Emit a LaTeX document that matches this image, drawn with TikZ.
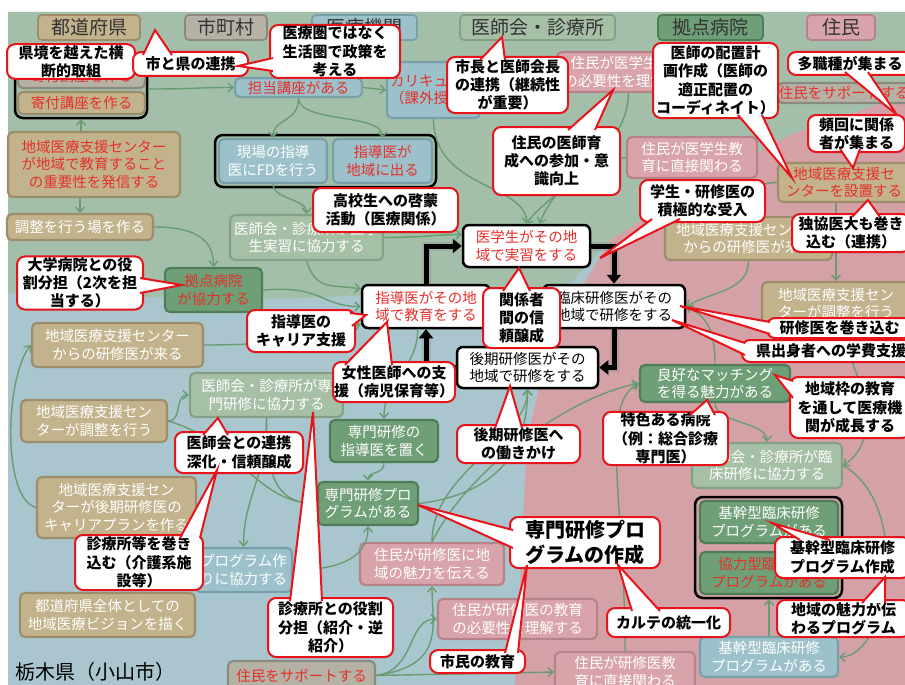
\documentclass[tikz,border=0pt]{standalone}
\usepackage{fontspec}
\setmainfont{Noto Sans CJK JP}
\usetikzlibrary{arrows.meta}
\definecolor{bggreen}{HTML}{A3BFA9}
\definecolor{bgblue}{HTML}{A9C6CE}
\definecolor{bgpink}{HTML}{D4A1A7}
\definecolor{tanf}{HTML}{C3B38D}
\definecolor{tand}{HTML}{9C8E6C}
\definecolor{grayf}{HTML}{B5B2A5}
\definecolor{grayd}{HTML}{8C8A7E}
\definecolor{bluef}{HTML}{9DC1CB}
\definecolor{blued}{HTML}{78A0AA}
\definecolor{ggf}{HTML}{A6C0A6}
\definecolor{ggd}{HTML}{86A086}
\definecolor{dgf}{HTML}{6F9F77}
\definecolor{dgd}{HTML}{4F7D57}
\definecolor{pkf}{HTML}{D9A4A9}
\definecolor{pkd}{HTML}{B4848A}
\definecolor{txtred}{HTML}{E5302A}
\definecolor{calred}{HTML}{E8141B}
\definecolor{lgreen}{HTML}{6A9C73}
\definecolor{hdrtxt}{HTML}{333333}
\newcommand\bx[7]{\node[#1,minimum width={#5-#3},minimum height={#6-#4}] (#2) at ({(#3+#5)/2},{(#4+#6)/2}) {#7};}
\newcommand\ptr[3]{\filldraw[ptrst] #1 -- #2 -- #3;}
\tikzset{
 bxbase/.style={rounded corners=5pt, line width=2.2pt, align=center, inner sep=1pt, font=\fontsize{14.5}{17.5}\selectfont, text=white},
 tanbox/.style={bxbase, fill=tanf, draw=tand},
 graybox/.style={bxbase, fill=grayf, draw=grayd},
 bluebox/.style={bxbase, fill=bluef, draw=blued},
 ggbox/.style={bxbase, fill=ggf, draw=ggd},
 dgbox/.style={bxbase, fill=dgf, draw=dgd},
 pkbox/.style={bxbase, fill=pkf, draw=pkd},
 rt/.style={text=txtred},
 hdr/.style={rounded corners=4pt, line width=1.8pt, font=\fontsize{19}{22}\selectfont, text=hdrtxt, inner sep=0pt},
 wbox/.style={rounded corners=6pt, line width=2.5pt, draw=black, fill=white, align=center, inner sep=1pt, font=\fontsize{14.5}{17.5}\selectfont, text=black},
 call/.style={rounded corners=8pt, line width=2pt, draw=calred, fill=white, align=center, inner sep=1pt, font=\fontsize{15}{18.3}\selectfont\bfseries, text=black},
 ptrst/.style={fill=white, draw=calred, line width=2pt, line join=miter},
 grp/.style={rounded corners=8pt, line width=2.5pt, draw=black},
 gar/.style={draw=lgreen, line width=1.4pt, -{Straight Barb[length=5pt,width=9pt]}},
 cyc/.style={draw=black, line width=5pt, -{Triangle[length=9pt,width=14pt]}, preaction={draw=black!45, line width=9pt, opacity=0.35}},
}
\begin{document}
\begin{tikzpicture}[x=1pt,y=-1pt]
\useasboundingbox (0,0) rectangle (905,685);
% background
\fill[white] (0,0) rectangle (905,685);
\fill[bgblue] (8,12) rectangle (905,685);
\fill[bggreen] (8,12) -- (905,12) -- (905,95) -- (790,135) -- (690,190) -- (610,240) -- (555,300) -- (450,292) -- (250,300) -- (8,293) -- cycle;
\fill[bgpink] (905,95) -- (790,135) -- (690,190) -- (610,240) -- (550,340) -- (527,440) -- (515,685) -- (905,685) -- cycle;

% headers
\bx{hdr,fill=tanf,draw=tand}{h1}{38}{15}{140}{40}{都道府県}
\bx{hdr,fill=grayf,draw=grayd}{h2}{185}{15}{267}{40}{市町村}
\bx{hdr,fill=bluef,draw=blued}{h3}{312}{15}{417}{40}{医療機関}
\bx{hdr,fill=ggf,draw=ggd}{h4}{460}{15}{615}{40}{医師会・診療所}
\bx{hdr,fill=dgf,draw=dgd}{h5}{658}{15}{763}{40}{拠点病院}
\bx{hdr,fill=pkf,draw=pkd}{h6}{807}{15}{875}{40}{住民}

% left column
\bx{grp}{kifgrp}{15}{60}{147}{118}{}
\bx{graybox,rt}{kif1}{18}{65}{145}{88}{寄付講座を作る}
\bx{tanbox,rt}{kif2}{18}{92}{145}{114}{寄付講座を作る}
\bx{tanbox,rt}{hasshin}{8}{132}{180}{197}{地域医療支援センター\\が地域で教育すること\\の重要性を発信する}
\bx{tanbox}{chosei}{7}{214}{153}{240}{調整を行う場を作る}
\bx{dgbox,rt}{kyoten}{165}{268}{262}{312}{拠点病院\\が協力する}
\bx{tanbox}{lc1}{32}{323}{203}{367}{地域医療支援センター\\からの研修医が来る}
\bx{tanbox}{lc2}{21}{400}{167}{442}{地域医療支援セン\\ターが調整を行う}
\bx{tanbox}{lc3}{37}{477}{196}{538}{地域医療支援セン\\ターが後期研修医の\\キャリアプランを作る}
\bx{tanbox}{vision}{20}{593}{195}{637}{都道府県全体としての\\地域医療ビジョンを描く}
\node[anchor=west, font=\fontsize{20}{24}\selectfont, text=black, inner sep=0pt] (title) at (15,672) {栃木県（小山市）};

% middle
\bx{bluebox,rt}{tanto}{235}{78}{362}{97}{担当講座がある}
\bx{bluebox,rt}{kari}{387}{62}{480}{118}{カリキュラム\\（課外授業）}
\bx{grp}{fdgrp}{215}{135}{436}{187}{}
\bx{bluebox}{genba}{219}{139}{327}{183}{現場の指導\\医にFDを行う}
\bx{bluebox,rt}{chiiki}{333}{139}{432}{183}{指導医が\\地域に出る}
\bx{ggbox}{gakuseij}{230}{215}{383}{260}{医師会・診療所が医学\\生実習に協力する}
\bx{ggbox}{senmonk}{190}{373}{343}{417}{医師会・診療所が専\\門研修に協力する}
\bx{dgbox}{shidoioku}{330}{420}{438}{462}{専門研修の\\指導医を置く}
\bx{dgbox}{prog}{318}{482}{418}{525}{専門研修プロ\\グラムがある}
\bx{bluebox}{progt}{195}{548}{292}{592}{プログラム作\\りに協力する}
\bx{graybox,rt}{support2}{228}{661}{375}{690}{住民をサポートする}

% right
\bx{pkbox}{jumin1}{557}{52}{700}{92}{住民が医学生教育\\の必要性を理解する}
\bx{graybox,rt}{support1}{778}{83}{910}{103}{住民をサポートする}
\bx{pkbox}{jumin2}{627}{137}{757}{178}{住民が医学生教\\育に直接関わる}
\bx{tanbox,rt}{centerset}{778}{163}{910}{202}{地域医療支援セ\\ンターを設置する}
\bx{tanbox}{rc1}{665}{217}{832}{260}{地域医療支援センター\\からの研修医が来る}
\bx{tanbox}{rc2}{762}{282}{910}{325}{地域医療支援セン\\ターが調整を行う}
\bx{dgbox}{matching}{640}{365}{790}{402}{良好なマッチング\\を得る魅力がある}
\bx{ggbox}{rinshok}{692}{443}{842}{488}{医師会・診療所が臨\\床研修に協力する}
\bx{grp}{kikangrp}{695}{497}{842}{598}{}
\bx{dgbox}{kikan1}{700}{501}{838}{543}{基幹型臨床研修\\プログラムがある}
\bx{dgbox,rt}{kyoryoku}{700}{552}{838}{594}{協力型臨床研修\\プログラムがある}
\bx{bluebox}{kikan2}{700}{637}{838}{677}{基幹型臨床研修\\プログラムがある}
\bx{pkbox}{jumin3}{360}{543}{504}{585}{住民が研修医に地\\域の魅力を伝える}
\bx{pkbox}{jumin4}{438}{599}{597}{639}{住民が研修医の教育\\の必要性を理解する}
\bx{pkbox}{jumin5}{555}{652}{695}{692}{住民が研修医教\\育に直接関わる}

% centre cycle boxes
\bx{wbox,rt}{igaku}{463}{225}{590}{267}{医学生がその地\\域で実習をする}
\bx{wbox}{rinsho}{543}{285}{685}{328}{臨床研修医がその\\地域で研修をする}
\bx{wbox}{koki}{457}{347}{598}{388}{後期研修医がその\\地域で研修をする}
\bx{wbox,rt}{shidoi}{362}{285}{490}{328}{指導医がその地\\域で教育をする}

% green connectors
\draw[gar] (hasshin.north -| kifgrp.south) -- (kifgrp.south);
\draw[gar] (hasshin.south -| chosei.north) -- (chosei.north);
\draw[gar] (kifgrp.east) .. controls +(50,0) and +(-40,0) .. (tanto.west);
\draw[gar] (tanto.east) -- (kari.west);
\draw[gar] (tanto.south) .. controls +(0,25) and +(0,-20) .. (genba.north);
\draw[gar] (tanto.south) .. controls +(0,25) and +(0,-25) .. (chiiki.north);
\draw[gar] (genba.south) .. controls +(0,15) and +(0,-15) .. (gakuseij.north);
\draw[gar] (chosei.east) .. controls +(45,0) and +(0,-25) .. (kyoten.north);
\draw[gar] (kyoten.east) .. controls +(60,-5) and +(-40,0) .. (shidoi.west);
\draw[gar] (gakuseij.east) .. controls +(40,0) and +(-25,0) .. (igaku.170);
\draw[gar] (gakuseij.south) .. controls +(10,30) and +(-30,-5) .. (shidoi.165);
\draw[gar] (kari.south) .. controls +(0,70) and +(0,-40) .. (igaku.north);
\draw[gar] (jumin1.south) .. controls +(0,60) and +(20,-30) .. (igaku.north);
\draw[gar] (jumin2.west) .. controls +(-50,5) and +(10,-25) .. (igaku.60);
\draw[gar] (centerset.west) .. controls +(-25,0) and +(0,-20) .. (rc1.north);
\draw[gar] (centerset.south -| rc2.north) -- (rc2.north);
\draw[gar] (rc1.south) .. controls +(0,30) and +(25,-15) .. (rinsho.east);
\draw[gar] (matching.north) .. controls +(0,-35) and +(20,10) .. (rinsho.east);
\draw[gar] (lc1.east) .. controls +(70,0) and +(-50,15) .. (shidoi.195);
\draw[gar] (lc2.east) .. controls +(15,0) and +(-15,0) .. (senmonk.west);
\draw[gar] (lc3.west) .. controls +(-35,-10) and +(-25,30) .. (lc1.west);
\draw[gar] (lc2.east) .. controls +(70,20) and +(-60,0) .. (prog.west);
\draw[gar] (senmonk.south) .. controls +(0,60) and +(0,-50) .. (progt.north);
\draw[gar] (shidoi.250) .. controls +(0,40) and +(0,-40) .. (shidoioku.north);
\draw[gar] (shidoioku.south) .. controls +(0,12) and +(0,-10) .. (prog.north);
\draw[gar] (progt.east) .. controls +(40,0) and +(0,35) .. (prog.south);
\draw[gar] (senmonk.south) .. controls +(0,60) and +(-40,0) .. (prog.west);
\draw[gar] (support2.east) -- (jumin5.west);
\draw[gar] (support2.east) .. controls +(40,-5) and +(-30,0) .. (jumin4.west);
\draw[gar] (support2.east) .. controls +(70,-10) and +(0,40) .. (jumin3.south);
\draw[gar] (jumin3.north) .. controls +(0,-70) and +(0,50) .. (koki.south);
\draw[gar] (prog.east) .. controls +(80,-10) and +(0,60) .. (koki.south);
\draw[gar] (jumin3.north) .. controls +(40,-80) and +(-60,10) .. (matching.west);
\draw[gar] (jumin5.north) .. controls +(0,-150) and +(-40,20) .. (matching.west);
\draw[gar] (kikan2.north) -- (kikan2.north |- kikangrp.south);
\draw[gar] (matching.south) .. controls +(0,20) and +(0,-20) .. (rinshok.north);
\draw[gar] (rc2.south) .. controls +(40,80) and +(30,-20) .. (rinshok.east);
\draw[gar] (rinshok.east) .. controls +(70,40) and +(50,0) .. (kikan2.east);

% cycle arrows
\draw[cyc] (igaku.east) -| (rinsho.north);
\draw[cyc] (rinsho.south) |- (koki.east);
\draw[cyc] (koki.west) -| (shidoi.south);
\draw[cyc] (shidoi.north) |- (igaku.west);

% callouts
\bx{call}{c1}{7}{45}{135}{78}{県境を越えた横\\断的取組}
\bx{call}{c2}{133}{52}{248}{76}{市と県の連携}
\ptr{(143,55)}{(155,30)}{(172,55)}
\bx{call}{c3}{270}{25}{400}{78}{医療圏ではなく\\生活圏で政策を\\考える}
\ptr{(273,58)}{(238,66)}{(273,71)}
\bx{call}{c4}{447}{57}{568}{113}{市長と医師会長\\の連携（継続性\\が重要）}
\ptr{(480,60)}{(502,37)}{(505,60)}
\bx{call}{c5}{653}{43}{778}{118}{医師の配置計\\画作成（医師の\\適正配置の\\コーディネイト）}
\ptr{(738,115)}{(792,178)}{(762,115)}
\bx{call}{c6}{788}{52}{912}{75}{多職種が集まる}
\ptr{(845,72)}{(897,115)}{(868,72)}
\bx{call}{c7}{493}{127}{620}{195}{住民の医師育\\成への参加・意\\識向上}
\ptr{(568,130)}{(613,90)}{(595,130)}
\bx{call}{c8}{808}{115}{905}{152}{頻回に関係\\者が集まる}
\ptr{(840,149)}{(853,168)}{(860,149)}
\bx{call}{c9}{640}{180}{765}{222}{学生・研修医の\\積極的な受入}
\ptr{(652,219)}{(600,258)}{(680,219)}
\bx{call}{c10}{792}{214}{910}{252}{独協医大も巻き\\込む（連携）}
\ptr{(852,217)}{(868,200)}{(880,217)}
\bx{call}{c11}{313}{188}{458}{232}{高校生への啓蒙\\活動（医療関係）}
\bx{call}{c12}{17}{258}{143}{308}{大学病院との役\\割分担（2次を担\\当する）}
\ptr{(140,278)}{(182,285)}{(140,293)}
\bx{call}{c13}{247}{310}{355}{352}{指導医の\\キャリア支援}
\ptr{(350,313)}{(366,315)}{(352,326)}
\bx{call}{c14}{333}{362}{455}{402}{女性医師への支\\援（病児保育等）}
\ptr{(345,365)}{(387,322)}{(392,365)}
\bx{call}{c15}{483}{288}{560}{348}{関係者\\間の信\\頼醸成}
\ptr{(503,291)}{(519,268)}{(530,291)}
\bx{call}{c16}{767}{318}{912}{338}{研修医を巻き込む}
\ptr{(770,322)}{(680,306)}{(770,334)}
\bx{call}{c17}{742}{340}{920}{362}{県出身者への学費支援}
\ptr{(745,343)}{(672,320)}{(745,355)}
\bx{call}{c18}{790}{377}{910}{438}{地域枠の教育\\を通して医療機\\関が成長する}
\ptr{(793,381)}{(775,375)}{(793,398)}
\bx{call}{c19}{175}{432}{303}{473}{医師会との連携\\深化・信頼醸成}
\ptr{(203,435)}{(218,418)}{(228,435)}
\bx{call}{c20}{75}{535}{203}{590}{診療所等を巻き\\込む（介護系施\\設等）}
\ptr{(180,538)}{(217,470)}{(200,538)}
\bx{call}{c21}{268}{598}{393}{657}{診療所との役割\\分担（紹介・逆\\紹介）}
\ptr{(290,601)}{(313,412)}{(322,601)}
\bx{call}{c22}{457}{425}{580}{463}{後期研修医へ\\の働きかけ}
\ptr{(495,428)}{(510,386)}{(522,428)}
\bx{call}{c23}{603}{412}{728}{465}{特色ある病院\\（例：総合診療\\専門医）}
\ptr{(690,415)}{(707,400)}{(715,415)}
\bx{call,font=\fontsize{20}{25}\selectfont\bfseries}{c24}{510}{517}{660}{568}{専門研修プロ\\グラムの作成}
\ptr{(513,530)}{(418,505)}{(513,548)}
\bx{call}{c25}{430}{650}{525}{673}{市民の教育}
\ptr{(505,653)}{(527,565)}{(518,653)}
\bx{call}{c26}{607}{608}{730}{637}{カルテの統一化}
\ptr{(632,611)}{(618,565)}{(660,611)}
\bx{call}{c27}{775}{537}{910}{578}{基幹型臨床研修\\プログラム作成}
\ptr{(800,540)}{(772,523)}{(830,540)}
\bx{call}{c28}{777}{600}{910}{637}{地域の魅力が伝\\わるプログラム}
\ptr{(862,603)}{(885,577)}{(885,603)}
\end{tikzpicture}
\end{document}
